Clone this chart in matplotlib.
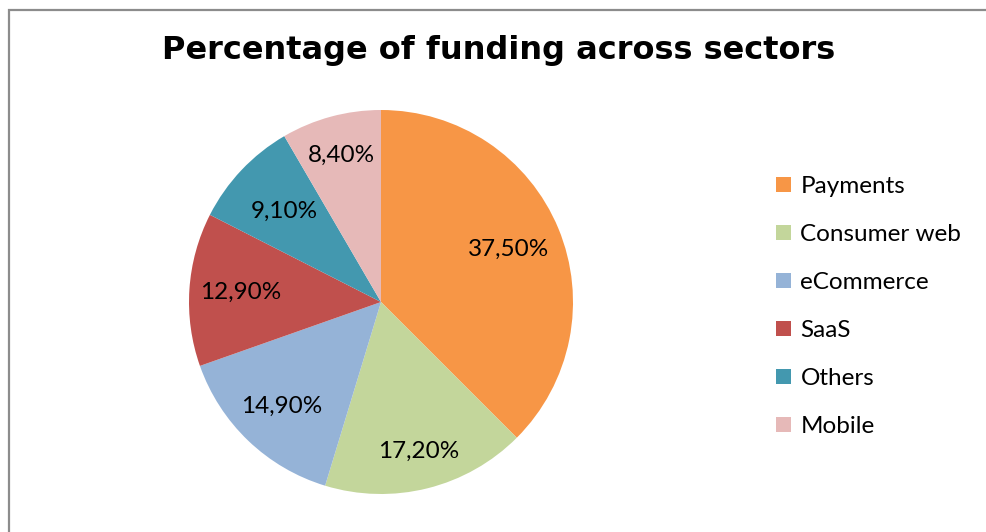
import matplotlib
matplotlib.use('Agg')
import matplotlib.pyplot as plt
from matplotlib.patches import Rectangle
import numpy as np

# data
sectors = ['Payments', 'Consumer web', 'eCommerce', 'SaaS', 'Others', 'Mobile']
shares = [37.5, 17.2, 14.9, 12.9, 9.1, 8.4]
colors = ['#F79646', '#C3D69B', '#95B3D7', '#C0504D', '#4398AF', '#E6B9B8']
# how far out each % label sits (fraction of radius), like Excel's best fit
label_r = [0.72, 0.80, 0.75, 0.73, 0.69, 0.79]

W, H = 987, 532
fig = plt.figure(figsize=(W / 100, H / 100), dpi=100)
ax = fig.add_axes([0, 0, 1, 1])

# chart border (runs off the right/bottom edge like the screenshot)
ax.add_patch(Rectangle((8.5, -5), W + 10, H - 9.5 + 5, fill=False,
                       edgecolor='#8c8c8c', linewidth=1.6))

cx, cy, R = 381, H - 302, 192
wedges, texts, autotexts = ax.pie(
    shares, colors=colors, startangle=90, counterclock=False,
    center=(cx, cy), radius=R, autopct=lambda p: f'{p:.2f}%'.replace('.', ','),
    pctdistance=0.75, frame=True,
    textprops=dict(fontsize=17.5, family='Lato', color='black'),
    wedgeprops=dict(linewidth=0))
ax.set_xlim(0, W)
ax.set_ylim(0, H)
ax.set_aspect('equal')
ax.axis('off')

for w, t, r in zip(wedges, autotexts, label_r):
    ang = np.deg2rad((w.theta1 + w.theta2) / 2)
    t.set_position((cx + r * R * np.cos(ang), cy + r * R * np.sin(ang)))

fig.text(499 / W, 1 - 51 / H, 'Percentage of funding across sectors',
         ha='center', va='center', fontsize=23, fontweight='bold',
         family='DejaVu Sans')

leg = fig.legend(wedges, sectors, loc='upper left',
                 bbox_to_anchor=(764 / W, 1 - 164 / H), frameon=False,
                 prop=dict(family='Lato', size=17.5), handlelength=0.6,
                 handleheight=0.6, handletextpad=0.4, labelspacing=1.11,
                 borderpad=0)

fig.savefig('out.png', dpi=100)
